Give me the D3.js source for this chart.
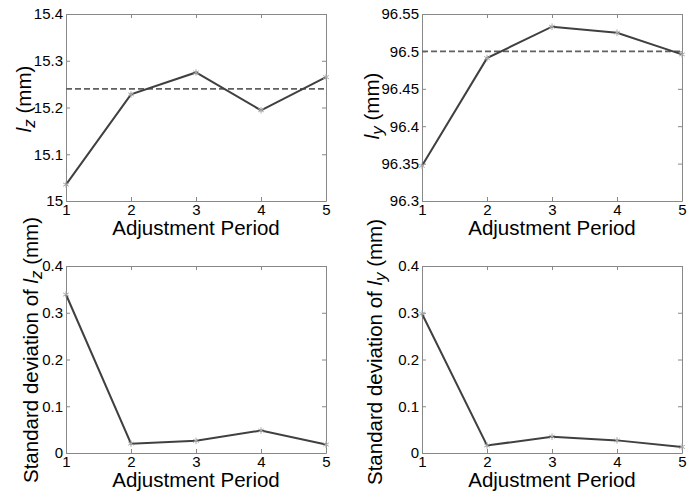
<!DOCTYPE html>
<html>
<head>
<meta charset="utf-8">
<script src="https://cdn.jsdelivr.net/npm/d3@7"></script>
<style>
  body { margin: 0; background: #fff; }
  text { font-family: "Liberation Sans", Arial, sans-serif; fill: #000; }
</style>
</head>
<body>
<div class="chart"></div>
<script>
var svgWidth = 693;
var svgHeight = 496;

// data
var periods = [1, 2, 3, 4, 5];
var lzMean = [15.035, 15.228, 15.275, 15.194, 15.265];
var lzRef = 15.24;
var lyMean = [96.347, 96.491, 96.533, 96.525, 96.496];
var lyRef = 96.5;
var lzStd = [0.339, 0.020, 0.026, 0.048, 0.018];
var lyStd = [0.298, 0.016, 0.035, 0.027, 0.013];

var lzTicks = [15, 15.1, 15.2, 15.3, 15.4];
var lzTickLabels = ["15", "15.1", "15.2", "15.3", "15.4"];
var lyTicks = [96.3, 96.35, 96.4, 96.45, 96.5, 96.55];
var lyTickLabels = ["96.3", "96.35", "96.4", "96.45", "96.5", "96.55"];
var stdTicks = [0, 0.1, 0.2, 0.3, 0.4];
var stdTickLabels = ["0", "0.1", "0.2", "0.3", "0.4"];

var svg = d3.select(".chart")
  .append("svg")
  .attr("width", svgWidth)
  .attr("height", svgHeight);

// one entry per panel
var panels = [
  { left: 66, top: 14, values: lzMean, ref: lzRef, ticks: lzTicks, labels: lzTickLabels,
    ylab: ["", "z", " (mm)"], labX: 31, labY: 99 },
  { left: 422, top: 14, values: lyMean, ref: lyRef, ticks: lyTicks, labels: lyTickLabels,
    ylab: ["", "y", " (mm)"], labX: 379, labY: 106 },
  { left: 66, top: 266, values: lzStd, ref: null, ticks: stdTicks, labels: stdTickLabels,
    ylab: ["Standard deviation of ", "z", " (mm)"], labX: 38, labY: 350 },
  { left: 422, top: 266, values: lyStd, ref: null, ticks: stdTicks, labels: stdTickLabels,
    ylab: ["Standard deviation of ", "y", " (mm)"], labX: 382, labY: 352 }
];

var pw = 260, ph = 187;
var axisColor = "#888";

panels.forEach(function (p) {
  var g = svg.append("g").attr("transform", `translate(${p.left}, ${p.top})`);

  var x = d3.scaleLinear().domain([1, 5]).range([0, pw]);
  var y = d3.scaleLinear().domain([p.ticks[0], p.ticks[p.ticks.length - 1]]).range([ph, 0]);

  // box + inward ticks on all sides
  var bottom = d3.axisBottom(x).tickValues(periods).tickFormat(d3.format("d"))
    .tickSize(-4).tickSizeOuter(0).tickPadding(3);
  var top = d3.axisTop(x).tickValues(periods).tickFormat("")
    .tickSize(-4).tickSizeOuter(0);
  var left = d3.axisLeft(y).tickValues(p.ticks).tickFormat((d, i) => p.labels[i])
    .tickSize(-4).tickSizeOuter(0).tickPadding(3);
  var right = d3.axisRight(y).tickValues(p.ticks).tickFormat("")
    .tickSize(-4).tickSizeOuter(0);

  g.append("g").attr("transform", `translate(0, ${ph})`).call(bottom);
  g.append("g").call(top);
  g.append("g").call(left);
  g.append("g").attr("transform", `translate(${pw}, 0)`).call(right);

  g.selectAll(".domain, .tick line").attr("stroke", axisColor).attr("stroke-width", 1);
  g.selectAll(".tick text")
    .attr("font-size", "15px")
    .attr("font-family", "'Liberation Sans', Arial, sans-serif")
    .attr("fill", "#000");

  // reference dashed line
  if (p.ref !== null) {
    g.append("line")
      .attr("x1", x(1)).attr("x2", x(5))
      .attr("y1", y(p.ref)).attr("y2", y(p.ref))
      .attr("stroke", "#606060")
      .attr("stroke-width", 1.7)
      .attr("stroke-dasharray", "6,3");
  }

  var line = d3.line()
    .x((d, i) => x(periods[i]))
    .y(d => y(d));

  g.append("path")
    .datum(p.values)
    .attr("d", line)
    .attr("fill", "none")
    .attr("stroke", "#404040")
    .attr("stroke-width", 2);

  var sym = d3.symbolAsterisk || d3.symbolCross;
  g.selectAll(".mk")
    .data(p.values)
    .enter().append("path")
    .attr("class", "mk")
    .attr("transform", (d, i) => `translate(${x(periods[i])}, ${y(d)})`)
    .attr("d", d3.symbol().type(sym).size(30))
    .attr("fill", "none")
    .attr("stroke", "#aaa")
    .attr("stroke-width", 1);

  // x label
  svg.append("text")
    .attr("x", p.left + pw / 2)
    .attr("y", p.top + ph + 34)
    .attr("text-anchor", "middle")
    .attr("font-size", "20.5px")
    .text("Adjustment Period");

  // y label with italic l and subscript
  var yl = svg.append("text")
    .attr("transform", `translate(${p.labX}, ${p.labY}) rotate(-90)`)
    .attr("text-anchor", "middle")
    .attr("font-size", "20.5px");
  yl.append("tspan").text(p.ylab[0]);
  yl.append("tspan").attr("font-style", "italic").text("l");
  yl.append("tspan").attr("font-style", "italic").attr("font-size", "17px").attr("dy", 4).text(p.ylab[1]);
  yl.append("tspan").attr("dy", -4).text(p.ylab[2]);
});
</script>
</body>
</html>
